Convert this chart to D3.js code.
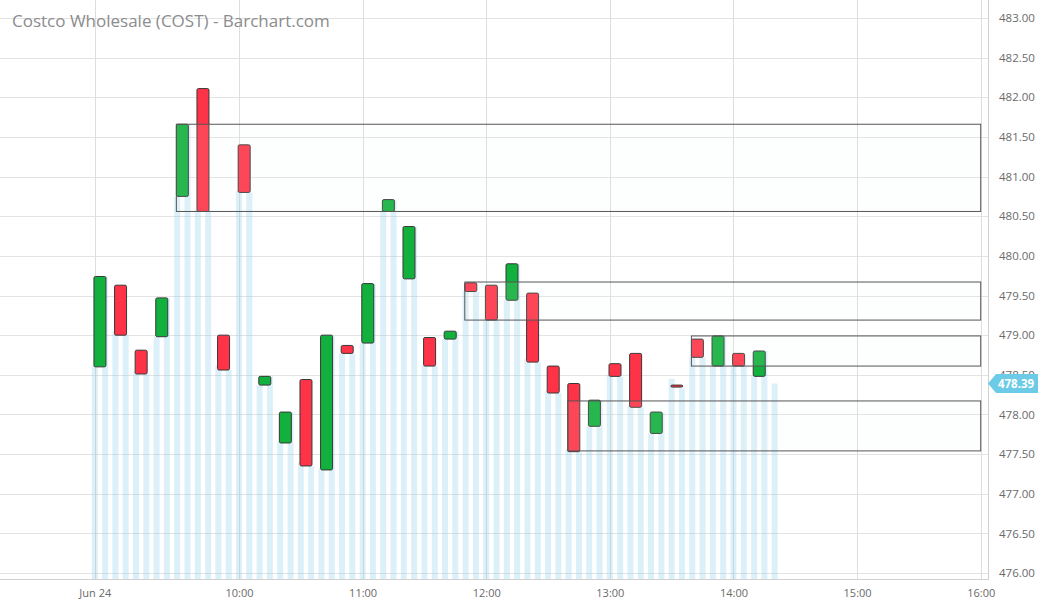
<!DOCTYPE html>
<html><head><meta charset="utf-8">
<script src="https://cdn.jsdelivr.net/npm/d3@7"></script>
<style>
html,body{margin:0;padding:0;background:#fff;}
svg{display:block;font-family:"Open Sans",sans-serif;}
</style></head>
<body><svg id="c" width="1038" height="603"></svg>
<script>
// ---- data ----
const title = "Costco Wholesale (COST) - Barchart.com";
const candleTimes = ["08:50","09:00","09:10","09:20","09:30","09:40","09:50","10:00","10:10","10:20","10:30","10:40","10:50","11:00","11:10","11:20","11:30","11:40","11:50","12:00","12:10","12:20","12:30","12:40","12:50","13:00","13:10","13:20","13:30","13:40","13:50","14:00","14:10"];
const opens  = [478.60,479.63,478.81,478.98,480.75,482.11,479.00,481.40,478.37,477.64,478.44,477.30,478.87,478.90,480.56,479.71,478.97,478.95,479.66,479.63,479.44,479.53,478.61,478.39,477.85,478.64,478.77,477.76,478.37,478.95,478.61,478.77,478.48];
const closes = [479.74,479.00,478.51,479.47,481.66,480.56,478.56,480.80,478.48,478.03,477.35,479.00,478.77,479.65,480.71,480.37,478.61,479.05,479.55,479.19,479.90,478.66,478.27,477.53,478.18,478.48,478.09,478.03,478.35,478.72,478.99,478.61,478.80];
const stripeTimes = ["08:50","08:55","09:00","09:05","09:10","09:15","09:20","09:25","09:30","09:35","09:40","09:45","09:50","09:55","10:00","10:05","10:10","10:15","10:20","10:25","10:30","10:35","10:40","10:45","10:50","10:55","11:00","11:05","11:10","11:15","11:20","11:25","11:30","11:35","11:40","11:45","11:50","11:55","12:00","12:05","12:10","12:15","12:20","12:25","12:30","12:35","12:40","12:45","12:50","12:55","13:00","13:05","13:10","13:15","13:20","13:25","13:30","13:35","13:40","13:45","13:50","13:55","14:00","14:05","14:10","14:15","14:20"];
const stripeValues = [478.62,479.74,479.05,479.00,478.55,478.51,478.98,479.47,480.75,481.66,480.58,480.56,478.62,478.56,480.82,480.80,478.37,478.48,477.66,478.03,477.40,477.35,477.32,479.00,478.77,478.77,478.90,479.65,480.56,480.71,479.71,480.37,478.62,478.61,478.95,479.05,479.56,479.55,479.20,479.19,479.44,479.90,478.70,478.66,478.30,478.27,477.56,477.53,477.85,478.18,478.50,478.48,478.12,478.09,477.76,478.03,478.45,478.33,478.73,478.72,478.61,478.99,478.62,478.61,478.48,478.80,478.39];
const boxStarts  = ["09:30","11:50","13:40","12:40"];
const boxTops    = [481.66,479.67,478.99,478.17];
const boxBottoms = [480.56,479.19,478.61,477.54];
const lastPrice = 478.39;
const yTicks = [476,476.5,477,477.5,478,478.5,479,479.5,480,480.5,481,481.5,482,482.5,483];
const xTicks = ["08:50","10:00","11:00","12:00","13:00","14:00","15:00","16:00"];
const xTickLabels = ["Jun 24","10:00","11:00","12:00","13:00","14:00","15:00","16:00"];

// ---- helpers ----
const parse = s => { const [h,m] = s.split(":").map(Number); return new Date(2024,5,24,h,m); };
const svg = d3.select("#c");
const W = 1038, H = 603;
const plotRight = 988, plotBottom = 579;

const x = d3.scaleTime().domain([parse("08:50"), parse("16:00")]).range([94.8, 980.7]);
const y = d3.scaleLinear().domain([476, 483]).range([573, 18]);
const halfStep = x(new Date(2024,5,24,8,52,30)) - x(parse("08:50")); // candle centre offset
const candleW = 12, stripeW = 6;

// grid
const grid = svg.append("g");
grid.selectAll("line.h").data(yTicks).join("line")
  .attr("x1",0).attr("x2",plotRight).attr("y1",d=>Math.round(y(d))+0.5).attr("y2",d=>Math.round(y(d))+0.5)
  .attr("stroke","#e3e3e3").attr("stroke-width",1);
grid.selectAll("line.v").data(xTicks).join("line")
  .attr("x1",d=>Math.round(x(parse(d)))+0.5).attr("x2",d=>Math.round(x(parse(d)))+0.5)
  .attr("y1",0).attr("y2",plotBottom+1)
  .attr("stroke","#dddddd").attr("stroke-width",1);

// title
svg.append("text").attr("x",12).attr("y",27).attr("font-size",17).attr("fill","#8c8c8c").text(title);

// stripes
svg.append("g").selectAll("rect").data(stripeValues).join("rect")
  .attr("x",(d,i)=>x(parse(stripeTimes[i]))-stripeW/2)
  .attr("width",stripeW)
  .attr("y",d=>y(d))
  .attr("height",d=>plotBottom - y(d))
  .attr("fill","rgba(140,205,235,0.3)");

// baseline & right axis line
svg.append("line").attr("x1",0).attr("x2",plotRight).attr("y1",plotBottom+0.5).attr("y2",plotBottom+0.5).attr("stroke","#d0d0d0");
svg.append("line").attr("x1",plotRight+0.5).attr("x2",plotRight+0.5).attr("y1",0).attr("y2",plotBottom+1).attr("stroke","#d0d0d0");

// candles
svg.append("g").selectAll("rect").data(candleTimes).join("rect")
  .attr("x",(d,i)=>x(parse(d))+halfStep-candleW/2)
  .attr("width",candleW)
  .attr("y",(d,i)=>y(Math.max(opens[i],closes[i])))
  .attr("height",(d,i)=>Math.max(2,Math.abs(y(opens[i])-y(closes[i]))))
  .attr("rx",1.5)
  .attr("fill",(d,i)=>closes[i]>=opens[i]?"#12b03c":"#ff3347")
  .attr("stroke","#383838").attr("stroke-width",1);

// boxes
svg.append("g").selectAll("rect").data(boxStarts).join("rect")
  .attr("x",(d)=>x(parse(d))+halfStep-candleW/2)
  .attr("width",d=>x(parse("16:00")) - (x(parse(d))+halfStep-candleW/2))
  .attr("y",(d,i)=>y(boxTops[i]))
  .attr("height",(d,i)=>y(boxBottoms[i])-y(boxTops[i]))
  .attr("fill","rgba(238,248,248,0.1)")
  .attr("stroke","#555").attr("stroke-width",1);

// y axis labels
const yAxis = d3.axisRight(y).tickValues(yTicks).tickFormat(d3.format(".2f")).tickSize(0).tickPadding(11);
const gy = svg.append("g").attr("transform",`translate(${plotRight},0)`).call(yAxis);
gy.select(".domain").remove();
gy.selectAll("text").attr("font-size",11.5).attr("fill","#6a6a6a").attr("font-family","Open Sans");

// x axis labels
const xAxis = d3.axisBottom(x).tickValues(xTicks.map(parse)).tickFormat((d,i)=>xTickLabels[i]).tickSize(0).tickPadding(10);
const gx = svg.append("g").attr("transform",`translate(0,${plotBottom})`).call(xAxis);
gx.select(".domain").remove();
gx.selectAll("text").attr("font-size",11).attr("fill","#6a6a6a").attr("font-family","Open Sans");

// last price tag
const ly = y(lastPrice);
svg.append("path")
  .attr("d",`M${plotRight},${ly} L${plotRight+8},${ly-9.5} L${W},${ly-9.5} L${W},${ly+9.5} L${plotRight+8},${ly+9.5} Z`)
  .attr("fill","#6ccbe6");
svg.append("text").attr("x",1016).attr("y",ly).attr("dy","0.36em").attr("text-anchor","middle")
  .attr("font-size",11.5).attr("font-weight","bold").attr("fill","#fff").text(d3.format(".2f")(lastPrice));
</script></body></html>
